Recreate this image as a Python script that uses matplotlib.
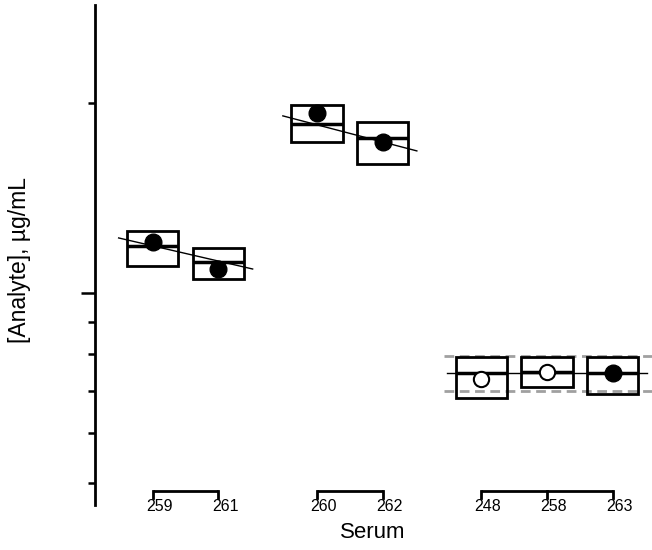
import matplotlib
matplotlib.use('Agg')
import matplotlib.pyplot as plt
from matplotlib.ticker import LogLocator, NullFormatter

plt.rcParams['font.family'] = ['Liberation Sans', 'DejaVu Sans']

# data
serums = ['259', '261', '260', '262', '248', '258', '263']
positions = [0, 1, 2.5, 3.5, 5, 6, 7]
box_low = [11.04, 10.52, 17.35, 16.01, 6.82, 7.10, 6.92]
box_high = [12.54, 11.78, 19.86, 18.66, 7.92, 7.92, 7.92]
box_median = [11.87, 11.20, 18.53, 17.61, 7.47, 7.50, 7.47]
point_value = [12.05, 10.91, 19.29, 17.35, 7.31, 7.50, 7.47]
point_filled = [True, True, True, True, False, False, True]

groups = [[0, 1], [2, 3], [4, 5, 6]]
trend_start = [12.22, 19.08, 7.47]
trend_end = [10.91, 16.79, 7.47]
limit_upper = 7.95
limit_lower = 7.00


def main():
    fig = plt.figure(figsize=(6.52, 5.5), dpi=100)
    ax = fig.add_axes([95 / 652, 45 / 550, 557 / 652, 500 / 550])
    ax.set_yscale('log')
    ax.set_ylim(4.61, 28.6)
    ax.set_xlim(-0.88, 7.6)

    width = 0.78
    ax.bar(positions, [h - l for h, l in zip(box_high, box_low)], bottom=box_low,
           width=width, facecolor='none', edgecolor='black', linewidth=2, zorder=2)
    ax.hlines(box_median, [p - width / 2 for p in positions], [p + width / 2 for p in positions],
              colors='black', linewidth=2.5, zorder=3)

    # trend lines per group
    for g, y0, y1 in zip(groups, trend_start, trend_end):
        x0 = positions[g[0]] - 0.52
        x1 = positions[g[-1]] + 0.52
        ax.plot([x0, x1], [y0, y1], color='black', linewidth=1, zorder=4)

    # limits for the last group
    x_start = positions[groups[2][0]] - 0.56
    for y in (limit_upper, limit_lower):
        ax.plot([x_start, 7.6], [y, y], color='#a0a0a0', linewidth=2,
                linestyle=(0, (3.5, 2)), zorder=1)

    for p, v, f in zip(positions, point_value, point_filled):
        if f:
            ax.plot(p, v, 'o', color='black', markersize=12, zorder=5)
        else:
            ax.plot(p, v, 'o', markerfacecolor='white', markeredgecolor='black',
                    markersize=11, markeredgewidth=1.5, zorder=5)

    # axes styling
    for s in ('top', 'right', 'bottom'):
        ax.spines[s].set_visible(False)
    ax.spines['left'].set_linewidth(2)
    ax.yaxis.set_major_locator(LogLocator(base=10))
    ax.yaxis.set_minor_locator(LogLocator(base=10, subs=range(2, 10)))
    ax.yaxis.set_major_formatter(NullFormatter())
    ax.yaxis.set_minor_formatter(NullFormatter())
    ax.tick_params(axis='y', which='major', length=10, width=1.8)
    ax.tick_params(axis='y', which='minor', length=5, width=1.8)
    ax.set_xticks([])

    # bracket-style x axis per group
    tr = ax.get_xaxis_transform()
    for g in groups:
        xs = [positions[i] for i in g]
        ax.plot([xs[0], xs[-1]], [0.028, 0.028], color='black', linewidth=2,
                transform=tr, clip_on=False, solid_capstyle='butt')
        for x in xs:
            ax.plot([x, x], [0.028, 0.015], color='black', linewidth=2,
                    transform=tr, clip_on=False)
    for p, s in zip(positions, serums):
        ax.text(p + 0.1, 0.012, s, transform=tr, ha='center', va='top', fontsize=11.5)

    fig.text(373 / 652, 1 - 533 / 550, 'Serum', ha='center', va='center', fontsize=16)
    fig.text(20 / 652, 1 - 260 / 550, '[Analyte], µg/mL', rotation=90,
             ha='center', va='center', fontsize=16.5)

    fig.savefig('out.png', dpi=100)
    plt.close(fig)


main()
